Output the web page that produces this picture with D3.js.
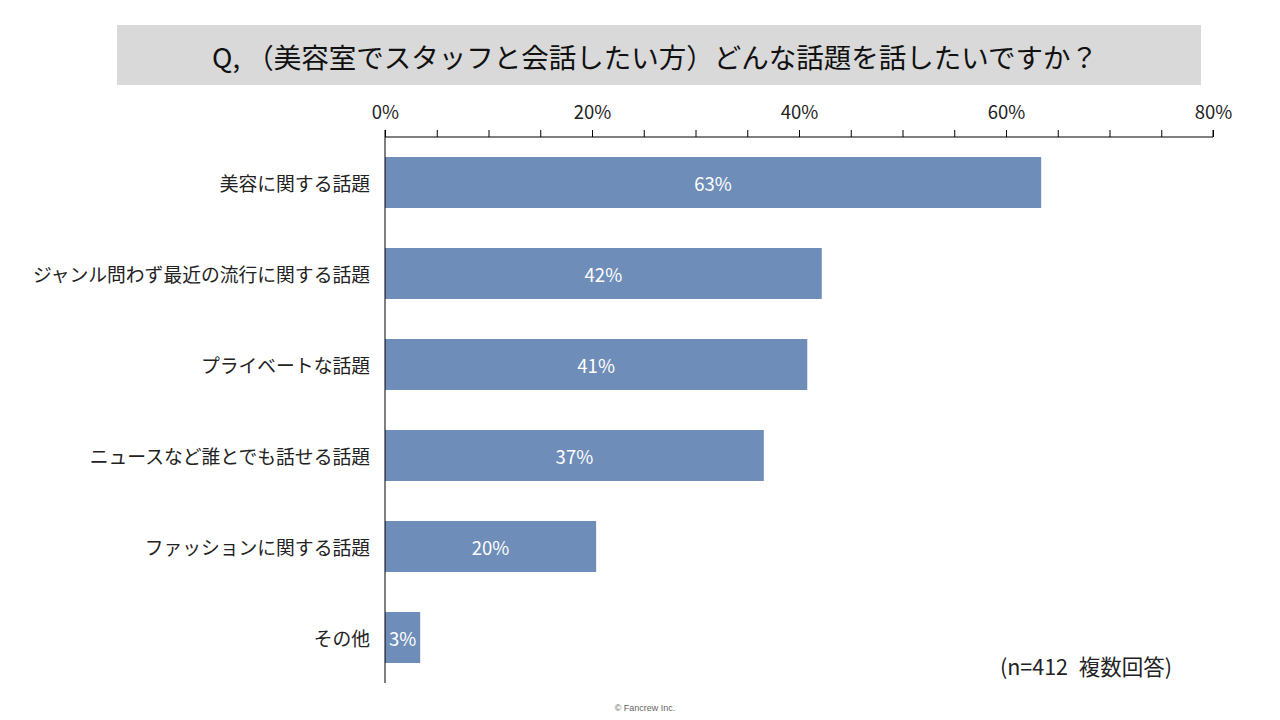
<!DOCTYPE html>
<html>
<head>
<meta charset="utf-8">
<script src="https://cdn.jsdelivr.net/npm/d3@7"></script>
<style>
  body { margin: 0; background: #fff; }
  svg { display: block; font-family: "Noto Sans CJK JP", "Noto Sans", sans-serif; }
</style>
</head>
<body>
<script>
const categories = [
  "美容に関する話題",
  "ジャンル問わず最近の流行に関する話題",
  "プライベートな話題",
  "ニュースなど誰とでも話せる話題",
  "ファッションに関する話題",
  "その他"
];
const values = [63.4, 42.2, 40.8, 36.6, 20.4, 3.4];
const valueLabels = ["63%", "42%", "41%", "37%", "20%", "3%"];
const majorTicks = [0, 20, 40, 60, 80];
const minorTicks = d3.range(0, 81, 5);

const width = 1280, height = 720;
const svg = d3.select("body").append("svg")
  .attr("width", width)
  .attr("height", height);

// title box
svg.append("rect")
  .attr("x", 117).attr("y", 25)
  .attr("width", 1084).attr("height", 60)
  .attr("fill", "#d9d9d9");
svg.append("text")
  .attr("x", 655).attr("y", 56)
  .attr("text-anchor", "middle")
  .attr("dominant-baseline", "central")
  .attr("font-size", 27.5)
  .attr("fill", "#111")
  .text("Q, （美容室でスタッフと会話したい方）どんな話題を話したいですか？");

const x = d3.scaleLinear().domain([0, 80]).range([385, 1213]);
const y = d3.scaleBand().domain(categories).range([137, 683])
  .paddingInner(0.44).paddingOuter(0.22);

// top axis: minor ticks
const axisY = 137;
svg.append("g")
  .attr("transform", `translate(0,${axisY})`)
  .call(d3.axisTop(x).tickValues(minorTicks).tickSize(7).tickFormat(""))
  .call(g => g.select(".domain").attr("stroke", "#000").attr("d", `M${x(0)},-7V0H${x(80)}V-7`))
  .call(g => g.selectAll(".tick line").attr("stroke", "#000"));

// top axis: labels
svg.append("g")
  .attr("transform", `translate(0,${axisY})`)
  .call(d3.axisTop(x).tickValues(majorTicks).tickSize(0).tickPadding(18).tickFormat(d => d + "%"))
  .call(g => g.select(".domain").remove())
  .call(g => g.selectAll("text")
    .attr("font-size", 18.5)
    .attr("fill", "#222")
    .attr("font-family", "'Noto Sans CJK JP', sans-serif"));

// bars
svg.append("g").selectAll("rect")
  .data(values)
  .enter().append("rect")
  .attr("x", x(0))
  .attr("y", (d, i) => y(categories[i]))
  .attr("width", d => x(d) - x(0))
  .attr("height", y.bandwidth())
  .attr("fill", "#6e8db9");

// value labels
svg.append("g").selectAll("text")
  .data(values)
  .enter().append("text")
  .attr("x", d => (x(0) + x(d)) / 2)
  .attr("y", (d, i) => y(categories[i]) + y.bandwidth() / 2)
  .attr("text-anchor", "middle")
  .attr("dominant-baseline", "central")
  .attr("font-size", 18.5)
  .attr("fill", "#fff")
  .text((d, i) => valueLabels[i]);

// vertical axis line
svg.append("line")
  .attr("x1", x(0)).attr("x2", x(0))
  .attr("y1", axisY).attr("y2", 683)
  .attr("stroke", "#000");

// category labels
svg.append("g").selectAll("text")
  .data(categories)
  .enter().append("text")
  .attr("x", 370)
  .attr("y", d => y(d) + y.bandwidth() / 2)
  .attr("text-anchor", "end")
  .attr("dominant-baseline", "central")
  .attr("font-size", 18.8)
  .attr("fill", "#222")
  .text(d => d);

// note
svg.append("text")
  .attr("x", 1086).attr("y", 665)
  .attr("text-anchor", "middle")
  .attr("dominant-baseline", "central")
  .attr("font-size", 21.5)
  .attr("fill", "#222")
  .text("(n=412\u2002複数回答)");

// footer
svg.append("text")
  .attr("x", 645).attr("y", 708)
  .attr("text-anchor", "middle")
  .attr("dominant-baseline", "central")
  .attr("font-size", 9)
  .attr("fill", "#666")
  .attr("font-family", "'Liberation Sans', Arial, sans-serif")
  .text("© Fancrew Inc.");
</script>
</body>
</html>
